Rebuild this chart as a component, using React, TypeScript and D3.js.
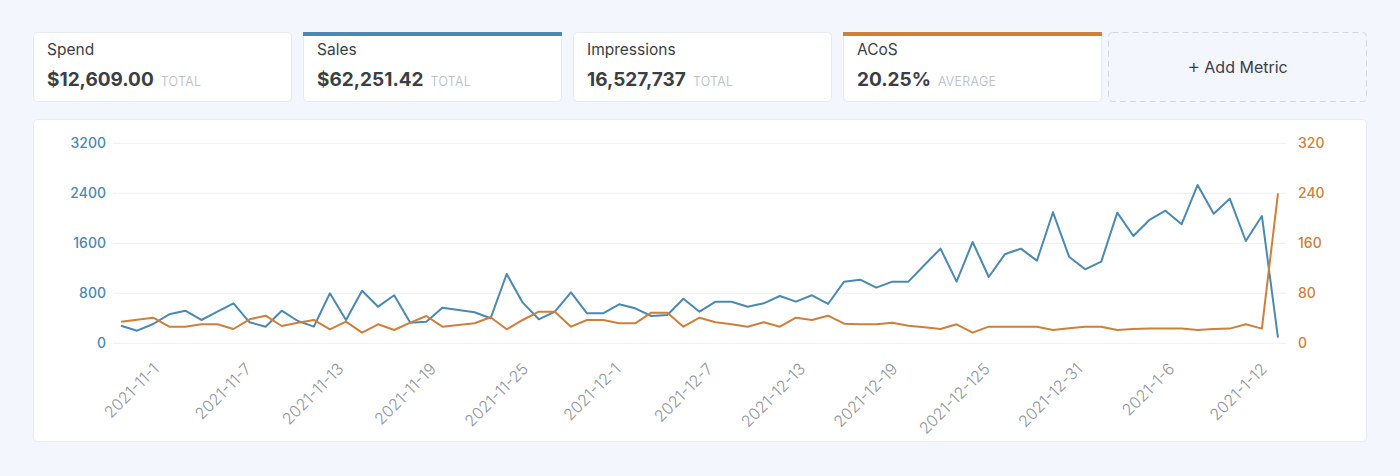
import React from "react";
import * as d3 from "d3";

const categories = [
  "2021-11-1","2021-11-2","2021-11-3","2021-11-4","2021-11-5","2021-11-6","2021-11-7","2021-11-8","2021-11-9","2021-11-10",
  "2021-11-11","2021-11-12","2021-11-13","2021-11-14","2021-11-15","2021-11-16","2021-11-17","2021-11-18","2021-11-19","2021-11-20",
  "2021-11-21","2021-11-22","2021-11-23","2021-11-24","2021-11-25","2021-11-26","2021-11-27","2021-11-28","2021-11-29","2021-11-30",
  "2021-12-1","2021-12-2","2021-12-3","2021-12-4","2021-12-5","2021-12-6","2021-12-7","2021-12-8","2021-12-9","2021-12-10",
  "2021-12-11","2021-12-12","2021-12-13","2021-12-14","2021-12-15","2021-12-16","2021-12-17","2021-12-18","2021-12-19","2021-12-20",
  "2021-12-21","2021-12-22","2021-12-23","2021-12-24","2021-12-125","2021-12-26","2021-12-27","2021-12-28","2021-12-29","2021-12-30",
  "2021-12-31","2021-1-1","2021-1-2","2021-1-3","2021-1-4","2021-1-5","2021-1-6","2021-1-7","2021-1-8","2021-1-9",
  "2021-1-10","2021-1-11","2021-1-12"
];

const sales = [
  282,202,309,464,522,373,506,640,336,266,
  522,357,266,800,373,842,586,768,330,346,
  570,533,496,400,1109,650,384,506,816,480,
  480,624,560,437,453,714,506,666,666,586,
  640,757,666,768,629,986,1018,890,986,986,
  1253,1514,986,1621,1061,1424,1514,1322,2096,1386,
  1184,1306,2090,1717,1973,2122,1904,2533,2074,2314,
  1637,2037,90
];

const acos = [
  34.6,37.8,41,26.6,26.6,30.4,30.4,22.9,38.4,44.2,
  27.7,33,37.3,22.4,34.6,17,30.4,21.3,33,43.7,
  26.6,29.3,32,41.6,22.4,37.3,50.6,50.6,26.6,37.3,
  37.3,32,32,49,49,26.6,41,33.6,30.4,26.6,
  33.6,26.6,41,37.3,44.2,31.4,30.4,30.4,33,28.2,
  25.6,22.9,30.4,17,26.6,26.6,26.6,26.6,21.3,24,
  26.6,26.6,21.3,22.9,23.5,23.5,23.5,21.3,22.9,23.5,
  30.4,23.5,240
];

const leftTicks = [0, 800, 1600, 2400, 3200];
const rightTicks = [0, 80, 160, 240, 320];

const metricNames = ["Spend", "Sales", "Impressions", "ACoS"];
const metricValues = ["$12,609.00", "$62,251.42", "16,527,737", "20.25%"];
const metricSuffix = ["TOTAL", "TOTAL", "TOTAL", "AVERAGE"];
const metricAccent = [null, "sales", null, "acos"];

const BLUE = "#4a89b1";
const ORANGE = "#cd7f3b";
const FONT = "Inter, 'Noto Sans', sans-serif";

export default function App() {
  const W = 1400, H = 476;
  const x = d3.scaleBand<string>().domain(categories).range([113, 1286]);
  const yL = d3.scaleLinear().domain([0, 3200]).range([343.3, 143.3]);
  const yR = d3.scaleLinear().domain([0, 320]).range([343.3, 143.3]);
  const cx = (c: string) => (x(c) as number) + x.bandwidth() / 2;

  const tickLabels = categories.filter((_, i) => i % 6 === 0);
  const xl = d3.scalePoint<string>().domain(tickLabels).range([160, 1268]);

  const lineSales = d3.line<number>().x((_, i) => cx(categories[i])).y((d) => yL(d));
  const lineAcos = d3.line<number>().x((_, i) => cx(categories[i])).y((d) => yR(d));

  const cardX = d3.scaleLinear().domain([0, 1]).range([33, 303]);
  const cardW = 259;

  return (
    <div style={{ position: "absolute", left: 0, top: 0, width: W, height: H }}>
      <svg width={W} height={H} style={{ display: "block", fontFamily: FONT }}>
        <rect x={0} y={0} width={W} height={H} fill="#f3f6fc" />
        {metricNames.map((name, i) => {
          const x0 = cardX(i);
          const accent = metricAccent[i];
          return (
            <g key={name}>
              <rect x={x0 + 0.5} y={32.5} width={cardW - 1} height={69} rx={4} fill="#ffffff" stroke="#e6eaf0" />
              {accent && (
                <rect x={x0} y={32} width={cardW} height={4} fill={accent === "sales" ? BLUE : ORANGE} />
              )}
              <text x={x0 + 14} y={55} fontSize={15.5} fill="#3a3f45">{name}</text>
              <text x={x0 + 14} y={86}>
                <tspan fontSize={19} fontWeight={700} fill="#3a3f45">{metricValues[i]}</tspan>
                <tspan dx={7} fontSize={12.5} fontWeight={300} fill="#b3b8be" letterSpacing={0.3}>{metricSuffix[i]}</tspan>
              </text>
            </g>
          );
        })}
        <rect x={1108.5} y={32.5} width={258} height={69} rx={4} fill="#f3f6fc" stroke="#d3d8df" strokeDasharray="6,4" />
        <text x={1237.5} y={73} fontSize={16} fill="#3a3f45" textAnchor="middle">
          <tspan fontSize={20} fontWeight={300}>+</tspan>
          <tspan dx={4}>Add Metric</tspan>
        </text>

        <rect x={33.5} y={119.5} width={1333} height={322} rx={4} fill="#ffffff" stroke="#e8ecf2" />

        {leftTicks.map((t) => (
          <line key={"g" + t} x1={113} x2={1286} y1={yL(t)} y2={yL(t)} stroke="#eef0f4" strokeWidth={1} />
        ))}
        {leftTicks.map((t) => (
          <text key={"l" + t} x={106} y={yL(t)} dy="0.3em" textAnchor="end" fontSize={14} fontWeight={500} fill={BLUE}>{t}</text>
        ))}
        {rightTicks.map((t) => (
          <text key={"r" + t} x={1298} y={yR(t)} dy="0.3em" textAnchor="start" fontSize={14} fontWeight={500} fill={ORANGE}>{t}</text>
        ))}

        {tickLabels.map((lab) => {
          const px = xl(lab) as number;
          return (
            <text key={lab} x={px} y={370} transform={`rotate(-45 ${px} 370)`} textAnchor="end" fontSize={16} fontWeight={300} fill="#8f959c">{lab}</text>
          );
        })}

        <path d={lineSales(sales) || ""} fill="none" stroke={BLUE} strokeWidth={2} strokeLinejoin="round" />
        <path d={lineAcos(acos) || ""} fill="none" stroke={ORANGE} strokeWidth={2} strokeLinejoin="round" />
      </svg>
    </div>
  );
}
